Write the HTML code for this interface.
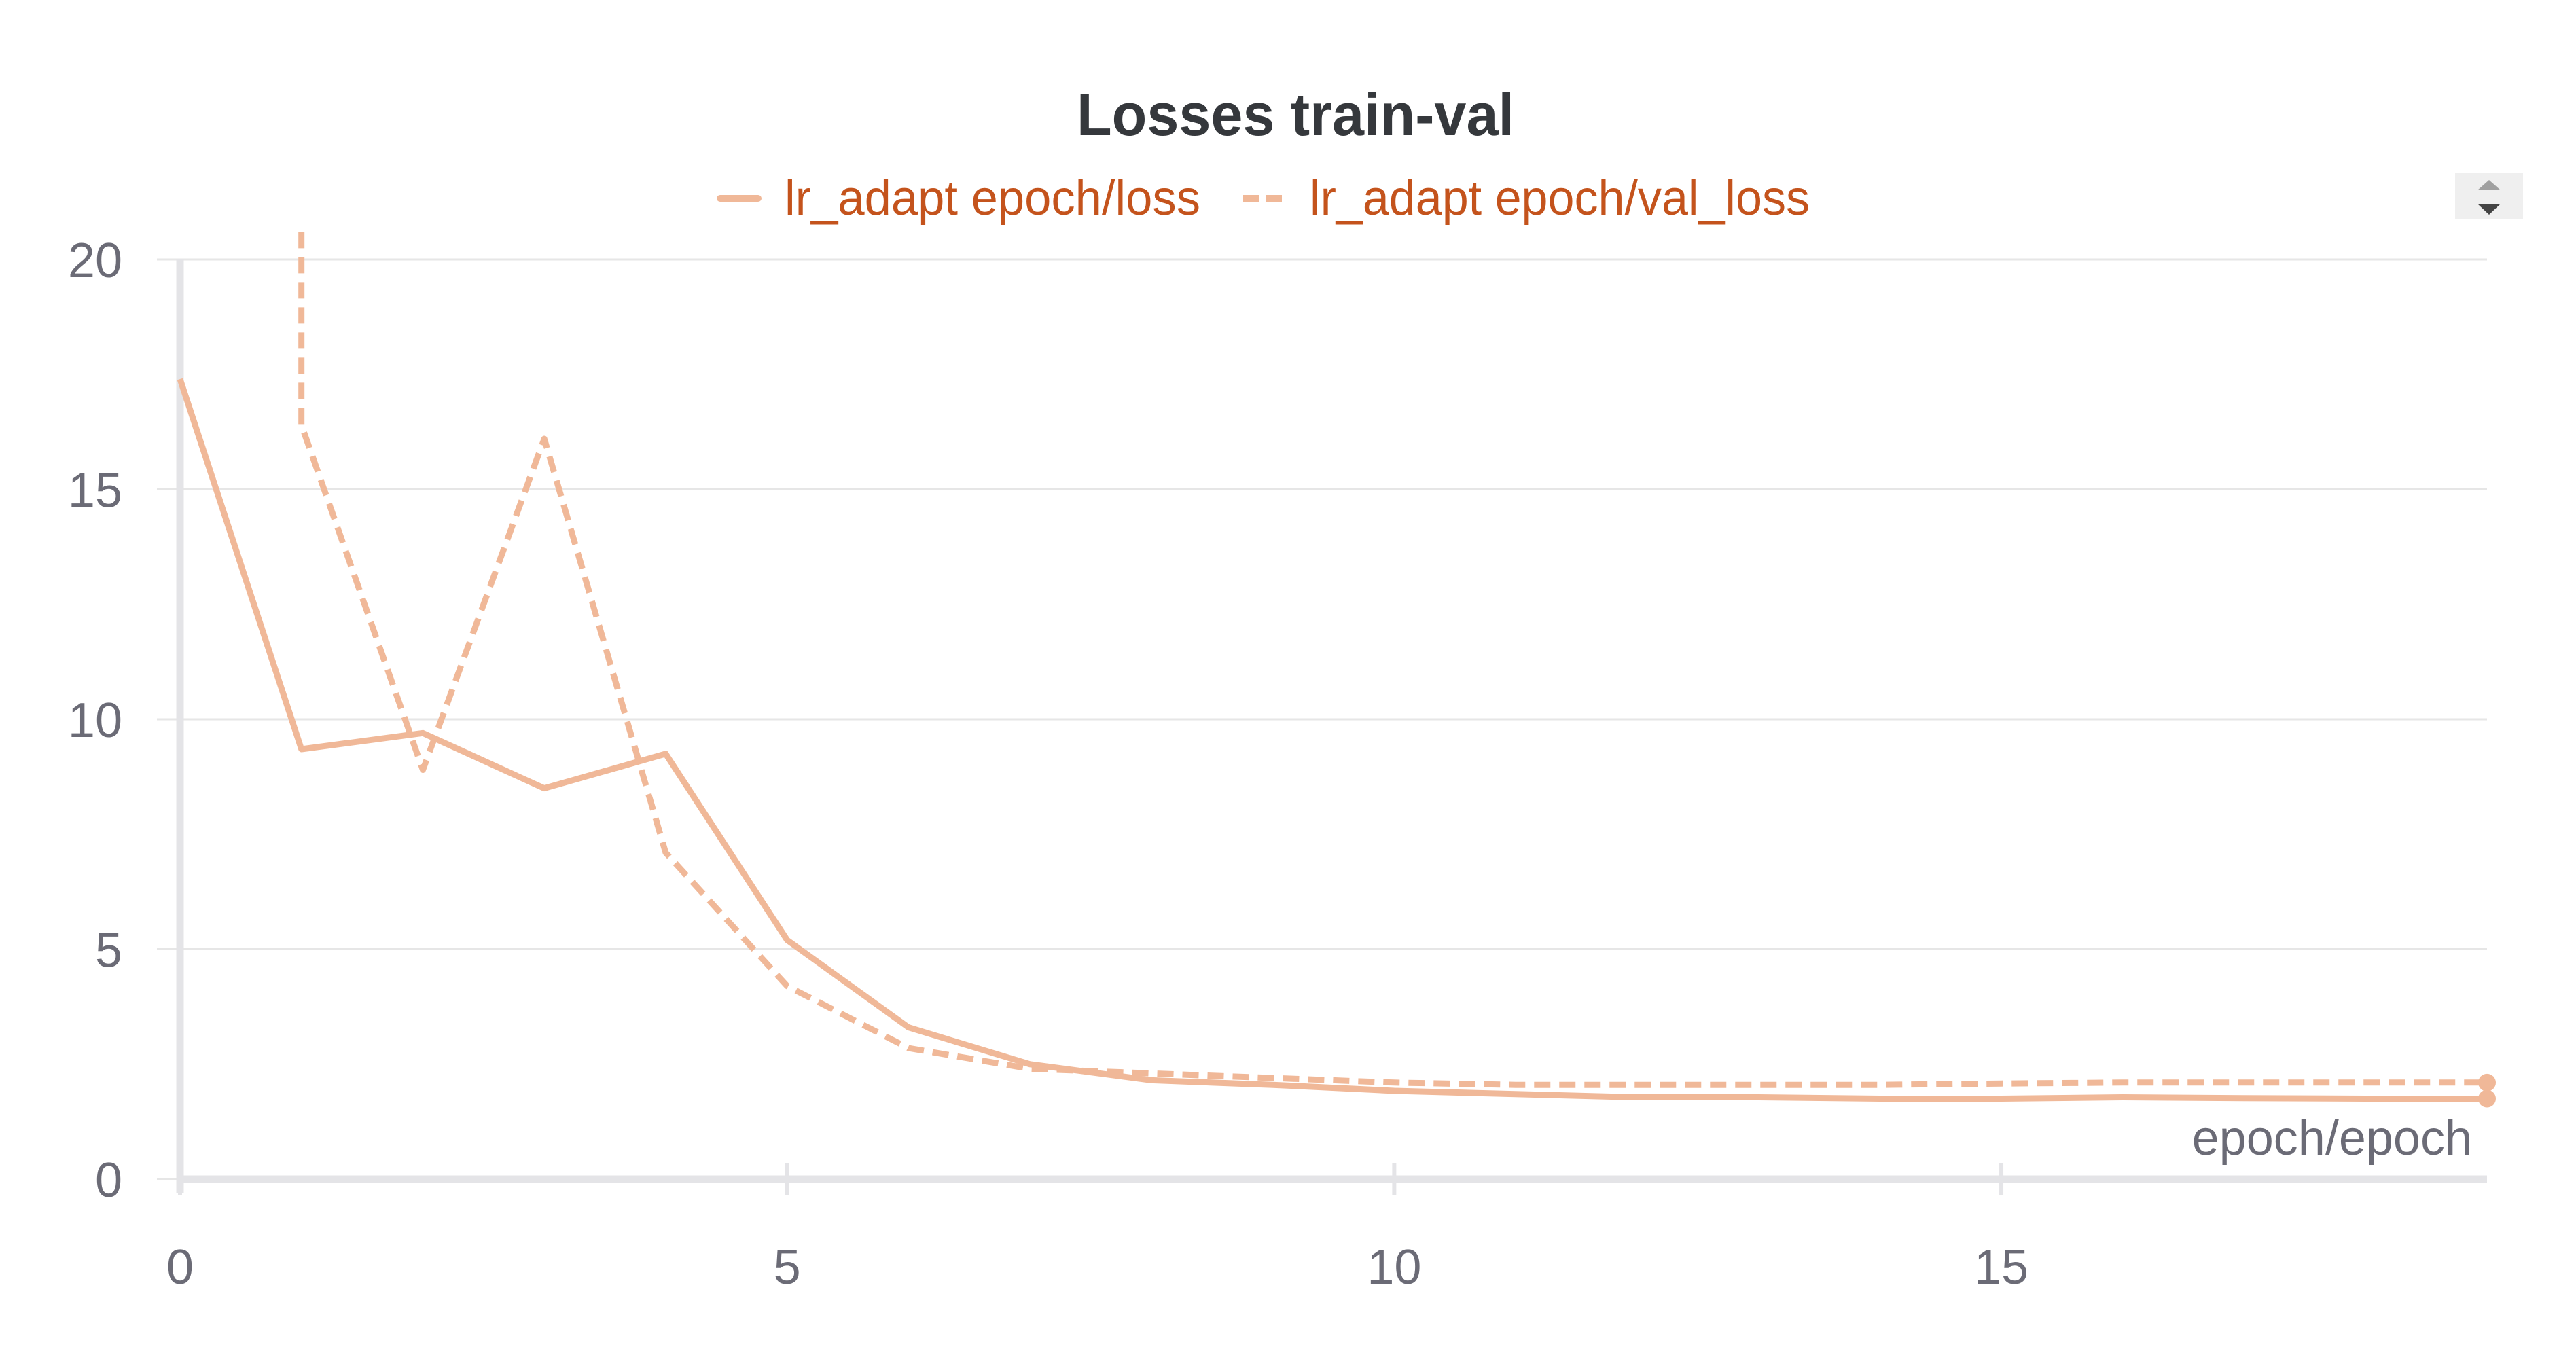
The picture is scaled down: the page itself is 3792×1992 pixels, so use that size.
<!DOCTYPE html>
<html><head><meta charset="utf-8"><style>
html,body{margin:0;padding:0;background:#fff;}
svg{display:block;font-family:"Liberation Sans",sans-serif;}
</style></head><body>
<svg id="chart" width="3792" height="1992" viewBox="0 0 3792 1992">
<text x="1907" y="199" font-size="88" font-weight="bold" fill="#35383c" text-anchor="middle" textLength="644" lengthAdjust="spacingAndGlyphs">Losses train-val</text>
<g>
<g>
<line x1="1060" y1="292" x2="1116" y2="292" stroke="#f0b898" stroke-width="10" stroke-linecap="round"/>
<text x="1155" y="316" font-size="72" fill="#c4531c" textLength="612" lengthAdjust="spacingAndGlyphs">lr_adapt epoch/loss</text>
</g>
<g>
<line x1="1830" y1="292" x2="1891" y2="292" stroke="#f0b898" stroke-width="10" stroke-dasharray="24,9"/>
<text x="1928" y="316" font-size="72" fill="#c4531c" textLength="736" lengthAdjust="spacingAndGlyphs">lr_adapt epoch/val_loss</text>
</g>
</g>
<g>
<rect x="3614" y="255" width="100" height="68" fill="#efefef"/>
<polygon points="3664,265 3647,280 3681,280" fill="#a0a0a0"/>
<polygon points="3664,316 3647,300 3681,300" fill="#444"/>
</g>
<g id="grid"></g>
<g id="axes"></g>
<g id="series"></g>
<text x="3639" y="1700" font-size="72" fill="#6b6b76" text-anchor="end">epoch/epoch</text>
</svg>
<script>
const yTicks = [0, 5, 10, 15, 20];
const xTicks = [0, 5, 10, 15];
const lossX = [0,1,2,3,4,5,6,7,8,9,10,11,12,13,14,15,16,17,18,19];
const lossY = [17.4,9.35,9.7,8.5,9.25,5.2,3.3,2.5,2.15,2.05,1.92,1.85,1.78,1.78,1.75,1.75,1.78,1.76,1.75,1.75];
const valX = [1,1,2,3,4,5,6,7,8,9,10,11,12,13,14,15,16,17,18,19];
const valY = [20.6,16.4,8.9,16.1,7.1,4.2,2.85,2.4,2.3,2.2,2.1,2.05,2.05,2.05,2.05,2.08,2.1,2.1,2.1,2.1];

const NS = "http://www.w3.org/2000/svg";
const X0 = 265, X1 = 3661, Y0 = 1736, Y1 = 382;
function sx(v){ return X0 + (v - 0) / 19 * (X1 - X0); }
function sy(v){ return Y0 - v / 20 * (Y0 - Y1); }
function mk(tag, attrs, parent){ const e = document.createElementNS(NS, tag); for (const k in attrs) e.setAttribute(k, attrs[k]); parent.appendChild(e); return e; }
const grid = document.getElementById('grid'), axes = document.getElementById('axes'), series = document.getElementById('series');

yTicks.forEach(t => {
  const l = mk('line', {x1: 231, x2: X1, y1: sy(t), y2: sy(t), stroke: '#e6e6e6', 'stroke-width': 3}, grid);
  
  
  const tx = mk('text', {x: 180, y: sy(t) + 26, 'font-size': 72, fill: '#6b6b76', 'text-anchor': 'end'}, axes);
  tx.textContent = t;
  
  
});
const ya = mk('line', {x1: X0, x2: X0, y1: Y1, y2: Y0 + 20, stroke: '#e4e4e7', 'stroke-width': 11}, axes);


const xa = mk('line', {x1: X0, x2: X1, y1: Y0, y2: Y0, stroke: '#e4e4e7', 'stroke-width': 11}, axes);


xTicks.forEach(t => {
  const tk = mk('line', {x1: sx(t), x2: sx(t), y1: Y0 - 24, y2: Y0 + 24, stroke: '#e4e4e7', 'stroke-width': 6}, axes);
  
  
  const tx = mk('text', {x: sx(t), y: 1890, 'font-size': 72, fill: '#6b6b76', 'text-anchor': 'middle'}, axes);
  tx.textContent = t;
  
  
});

function pts(xs, ys){ return xs.map((x, i) => sx(x).toFixed(1) + ',' + sy(ys[i]).toFixed(1)).join(' '); }
const vl = mk('polyline', {points: pts(valX, valY), fill: 'none', stroke: '#f0b898', 'stroke-width': 9, 'stroke-dasharray': '24,13', 'stroke-linejoin': 'round'}, series);


const ll = mk('polyline', {points: pts(lossX, lossY), fill: 'none', stroke: '#f0b898', 'stroke-width': 9, 'stroke-linejoin': 'round'}, series);


const d1 = mk('circle', {cx: sx(valX[valX.length-1]), cy: sy(valY[valY.length-1]), r: 13, fill: '#f0b898'}, series);


const d2 = mk('circle', {cx: sx(lossX[lossX.length-1]), cy: sy(lossY[lossY.length-1]), r: 13, fill: '#f0b898'}, series);


</script>
</body></html>
